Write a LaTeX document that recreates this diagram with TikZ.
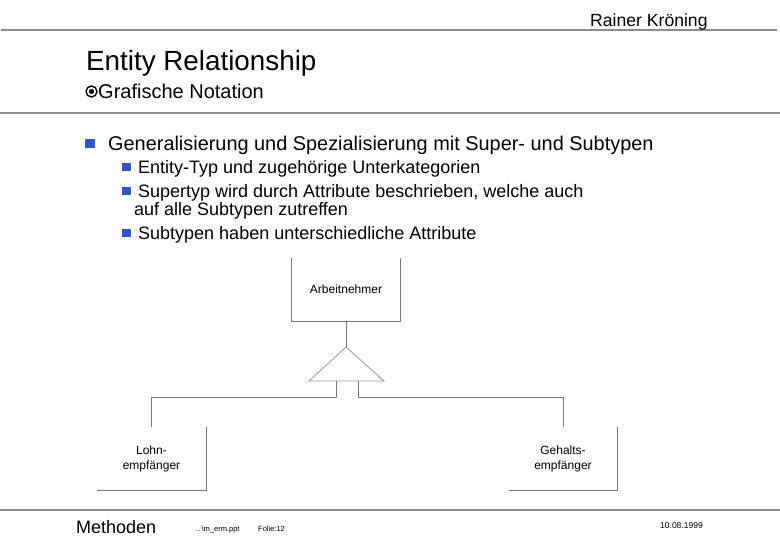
\documentclass[tikz,border=0pt]{standalone}
\usepackage{fontspec}
\setmainfont{Liberation Sans}
\definecolor{rulegray}{RGB}{140,140,140}
\definecolor{linegray}{RGB}{120,120,120}
\definecolor{trigray}{RGB}{150,150,150}
\definecolor{bulletblue}{RGB}{45,85,205}
\begin{document}
\begin{tikzpicture}[x=1pt,y=-1pt,
  rulel/.style={draw=rulegray,line width=2.3pt},
  conn/.style={draw=linegray,line width=0.9pt},
  txt/.style={inner sep=0pt,anchor=base west,text=black},
  bsq/.style={fill=bulletblue,draw=none},
  entbox/.style={inner sep=0pt,draw=none,align=center,font=\fontsize{12}{15}\selectfont},
  ]
\useasboundingbox (0,0) rectangle (780,540);
\fill[white] (0,0) rectangle (780,540);
% header rules
\coordinate (r1a) at (1,30);  \coordinate (r1b) at (777,30);
\coordinate (r2a) at (0,113); \coordinate (r2b) at (780,113);
\coordinate (r3a) at (0,510); \coordinate (r3b) at (780,510);
\draw[rulel] (r1a) -- (r1b);
\draw[rulel] (r2a) -- (r2b);
\draw[rulel] (r3a) -- (r3b);
% header texts
\node[txt,font=\fontsize{17.6}{20}\selectfont] (author) at (590,27) {Rainer Kröning};
\node[txt,font=\fontsize{27.8}{32}\selectfont] (title) at (86,71) {Entity Relationship};
\node[circle,draw=black,line width=1.4pt,minimum size=11pt,inner sep=0pt] (sym) at (91.5,91.5) {};
\fill[black] (sym.center) circle (2.6pt);
\node[txt,font=\fontsize{20}{22}\selectfont] (subtitle) at (98,98.5) {Grafische Notation};
% bullets
\fill[bsq] (85,139) rectangle (94.5,148.5);
\node[txt,font=\fontsize{19.9}{22}\selectfont] (b1) at (108,151) {Generalisierung und Spezialisierung mit Super- und Subtypen};
\fill[bsq] (122,163) rectangle (130.5,171.5);
\node[txt,font=\fontsize{18}{20}\selectfont] (b2) at (138,174) {Entity-Typ und zugehörige Unterkategorien};
\fill[bsq] (122,187) rectangle (130.5,195.5);
\node[txt,font=\fontsize{18}{20}\selectfont] (b3) at (138,198) {Supertyp wird durch Attribute beschrieben, welche auch};
\node[txt,font=\fontsize{18}{20}\selectfont] (b3b) at (134,216) {auf alle Subtypen zutreffen};
\fill[bsq] (122,229) rectangle (130.5,237.5);
\node[txt,font=\fontsize{18}{20}\selectfont] (b4) at (138,240) {Subtypen haben unterschiedliche Attribute};
% diagram
\node[entbox,minimum width=108pt,minimum height=63pt] (arb) at (346,289.5) {Arbeitnehmer};
\node[entbox,minimum width=109pt,minimum height=63pt] (lohn) at (151.5,458.5) {Lohn-\\empfänger};
\node[entbox,minimum width=108pt,minimum height=63pt] (geh) at (563,458.5) {Gehalts-\\empfänger};
\draw[conn] (arb.north west) -- (arb.south west) -- (arb.south east) -- (arb.north east);
\draw[conn] (lohn.north east) -- (lohn.south east) -- (lohn.south west);
\draw[conn] (geh.north east) -- (geh.south east) -- (geh.south west);
% generalisation triangle
\coordinate (apex) at (346,347);
\coordinate (tl) at (309,381);
\coordinate (tr) at (384,381);
\draw[draw=trigray,line width=0.8pt] (apex) -- (tl) -- (tr) -- cycle;
\draw[conn] (arb.south) -- (apex);
\coordinate (dl) at (336,381);
\coordinate (dr) at (358,381);
\draw[conn] (dl) -- (336,397) -| (lohn.north);
\draw[conn] (dr) -- (358,397) -| (geh.north);
% footer
\node[txt,font=\fontsize{18}{20}\selectfont] (meth) at (76,533) {Methoden};
\node[txt,font=\fontsize{7.5}{9}\selectfont] (file) at (196,531) {..\,\textbackslash m\_erm.ppt};
\node[txt,font=\fontsize{7.5}{9}\selectfont] (folie) at (258,531) {Folie:12};
\node[txt,font=\fontsize{8.5}{10}\selectfont] (date) at (660,528) {10.08.1999};
\end{tikzpicture}
\end{document}
